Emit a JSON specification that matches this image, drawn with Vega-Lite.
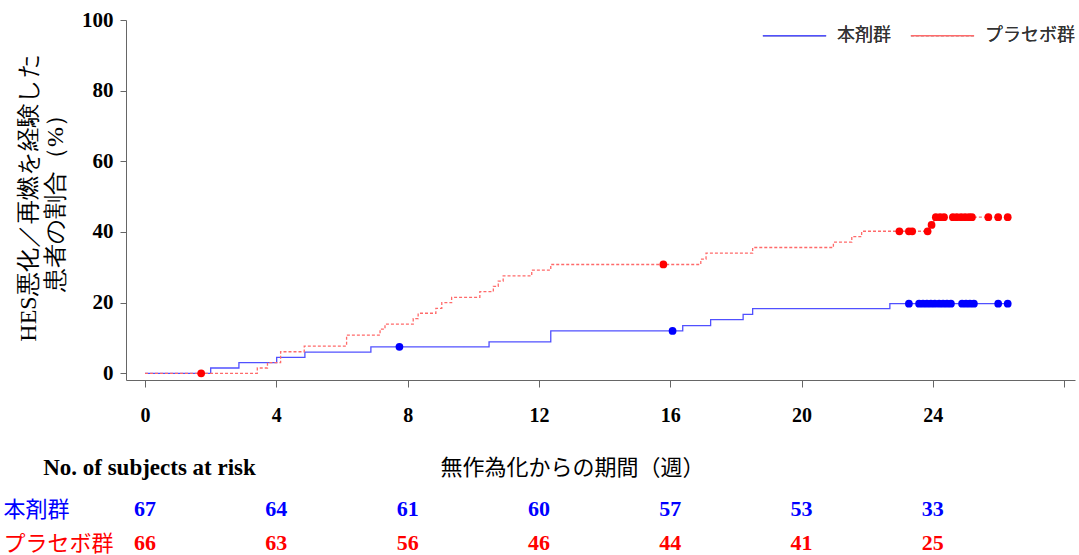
{
  "$schema": "https://vega.github.io/schema/vega-lite/v6.json",
  "width": 949,
  "height": 360,
  "autosize": {"type": "none"},
  "padding": {"left": 126, "top": 20, "right": 4, "bottom": 175},
  "background": "white",
  "config": {"view": {"stroke": null}, "axis": {"grid": false}},
  "datasets": {
    "curve": [
      {"group": "本剤群", "week": 0, "pct": 0},
      {"group": "本剤群", "week": 2.0, "pct": 1.5},
      {"group": "本剤群", "week": 2.86, "pct": 3.0},
      {"group": "本剤群", "week": 4.01, "pct": 4.5},
      {"group": "本剤群", "week": 4.87, "pct": 6.0},
      {"group": "本剤群", "week": 6.88, "pct": 7.5},
      {"group": "本剤群", "week": 10.48, "pct": 8.9},
      {"group": "本剤群", "week": 12.36, "pct": 12.0},
      {"group": "本剤群", "week": 16.38, "pct": 13.5},
      {"group": "本剤群", "week": 17.23, "pct": 15.2},
      {"group": "本剤群", "week": 18.22, "pct": 16.7},
      {"group": "本剤群", "week": 18.51, "pct": 18.3},
      {"group": "本剤群", "week": 22.69, "pct": 19.7},
      {"group": "本剤群", "week": 26.28, "pct": 19.7},
      {"group": "プラセボ群", "week": 0, "pct": 0},
      {"group": "プラセボ群", "week": 3.42, "pct": 1.5},
      {"group": "プラセボ群", "week": 3.73, "pct": 3.0},
      {"group": "プラセボ群", "week": 4.13, "pct": 6.1},
      {"group": "プラセボ群", "week": 4.85, "pct": 7.7},
      {"group": "プラセボ群", "week": 6.14, "pct": 10.8},
      {"group": "プラセボ群", "week": 7.16, "pct": 12.5},
      {"group": "プラセボ群", "week": 7.31, "pct": 13.9},
      {"group": "プラセボ群", "week": 8.17, "pct": 15.5},
      {"group": "プラセボ群", "week": 8.32, "pct": 17.0},
      {"group": "プラセボ群", "week": 8.86, "pct": 18.4},
      {"group": "プラセボ群", "week": 9.04, "pct": 20.0},
      {"group": "プラセボ群", "week": 9.34, "pct": 21.5},
      {"group": "プラセボ群", "week": 10.2, "pct": 23.1},
      {"group": "プラセボ群", "week": 10.61, "pct": 24.6},
      {"group": "プラセボ群", "week": 10.76, "pct": 26.1},
      {"group": "プラセボ群", "week": 10.91, "pct": 27.6},
      {"group": "プラセボ群", "week": 11.78, "pct": 29.2},
      {"group": "プラセボ群", "week": 12.36, "pct": 30.8},
      {"group": "プラセボ群", "week": 16.93, "pct": 32.3},
      {"group": "プラセボ群", "week": 17.09, "pct": 34.0},
      {"group": "プラセボ群", "week": 18.51, "pct": 35.6},
      {"group": "プラセボ群", "week": 20.97, "pct": 37.1},
      {"group": "プラセボ群", "week": 21.53, "pct": 38.7},
      {"group": "プラセボ群", "week": 21.83, "pct": 40.2},
      {"group": "プラセボ群", "week": 23.91, "pct": 42.0},
      {"group": "プラセボ群", "week": 24.03, "pct": 44.2},
      {"group": "プラセボ群", "week": 26.28, "pct": 44.2}
    ],
    "censor": [
      {"group": "本剤群", "week": 7.75, "pct": 7.5},
      {"group": "本剤群", "week": 16.07, "pct": 12.0},
      {"group": "本剤群", "week": 23.27, "pct": 19.7},
      {"group": "本剤群", "week": 23.58, "pct": 19.7},
      {"group": "本剤群", "week": 23.7, "pct": 19.7},
      {"group": "本剤群", "week": 23.82, "pct": 19.7},
      {"group": "本剤群", "week": 23.94, "pct": 19.7},
      {"group": "本剤群", "week": 24.06, "pct": 19.7},
      {"group": "本剤群", "week": 24.19, "pct": 19.7},
      {"group": "本剤群", "week": 24.31, "pct": 19.7},
      {"group": "本剤群", "week": 24.43, "pct": 19.7},
      {"group": "本剤群", "week": 24.55, "pct": 19.7},
      {"group": "本剤群", "week": 24.89, "pct": 19.7},
      {"group": "本剤群", "week": 25.01, "pct": 19.7},
      {"group": "本剤群", "week": 25.13, "pct": 19.7},
      {"group": "本剤群", "week": 25.25, "pct": 19.7},
      {"group": "本剤群", "week": 25.99, "pct": 19.7},
      {"group": "本剤群", "week": 26.28, "pct": 19.7},
      {"group": "プラセボ群", "week": 1.71, "pct": 0},
      {"group": "プラセボ群", "week": 15.79, "pct": 30.8},
      {"group": "プラセボ群", "week": 22.98, "pct": 40.2},
      {"group": "プラセボ群", "week": 23.27, "pct": 40.2},
      {"group": "プラセボ群", "week": 23.37, "pct": 40.2},
      {"group": "プラセボ群", "week": 23.84, "pct": 40.2},
      {"group": "プラセボ群", "week": 23.96, "pct": 42.0},
      {"group": "プラセボ群", "week": 24.09, "pct": 44.2},
      {"group": "プラセボ群", "week": 24.22, "pct": 44.2},
      {"group": "プラセボ群", "week": 24.34, "pct": 44.2},
      {"group": "プラセボ群", "week": 24.61, "pct": 44.2},
      {"group": "プラセボ群", "week": 24.73, "pct": 44.2},
      {"group": "プラセボ群", "week": 24.86, "pct": 44.2},
      {"group": "プラセボ群", "week": 24.98, "pct": 44.2},
      {"group": "プラセボ群", "week": 25.1, "pct": 44.2},
      {"group": "プラセボ群", "week": 25.19, "pct": 44.2},
      {"group": "プラセボ群", "week": 25.69, "pct": 44.2},
      {"group": "プラセボ群", "week": 25.99, "pct": 44.2},
      {"group": "プラセボ群", "week": 26.28, "pct": 44.2}
    ],
    "risk": [
      {"group": "本剤群", "week": 0, "n": 67},
      {"group": "本剤群", "week": 4, "n": 64},
      {"group": "本剤群", "week": 8, "n": 61},
      {"group": "本剤群", "week": 12, "n": 60},
      {"group": "本剤群", "week": 16, "n": 57},
      {"group": "本剤群", "week": 20, "n": 53},
      {"group": "本剤群", "week": 24, "n": 33},
      {"group": "プラセボ群", "week": 0, "n": 66},
      {"group": "プラセボ群", "week": 4, "n": 63},
      {"group": "プラセボ群", "week": 8, "n": 56},
      {"group": "プラセボ群", "week": 12, "n": 46},
      {"group": "プラセボ群", "week": 16, "n": 44},
      {"group": "プラセボ群", "week": 20, "n": 41},
      {"group": "プラセボ群", "week": 24, "n": 25}
    ]
  },
  "layer": [
    {
      "layer": [
        {
          "data": {"name": "curve"},
          "mark": {"type": "line", "interpolate": "step-after", "strokeWidth": 1.3},
          "encoding": {
            "x": {
              "field": "week", "type": "quantitative",
              "scale": {"domain": [-0.58, 28.33], "nice": false, "zero": false},
              "axis": {
                "values": [0, 4, 8, 12, 16, 20, 24, 28],
                "labelExpr": "datum.value == 28 ? '' : datum.label",
                "labelFont": "Liberation Serif", "labelFontWeight": "bold", "labelFontSize": 20,
                "labelColor": "black", "labelPadding": 18, "labelFlush": false,
                "tickSize": 7, "tickColor": "#666", "domainColor": "#666",
                "title": "無作為化からの期間（週）",
                "titleFont": "Noto Sans CJK JP", "titleFontSize": 22, "titleFontWeight": "normal",
                "titleColor": "black", "titleX": 446, "titleY": 87,
                "titleBaseline": "middle", "titleAlign": "center"
              }
            },
            "y": {
              "field": "pct", "type": "quantitative",
              "scale": {"domain": [-1.9, 100], "nice": false, "zero": false},
              "axis": {
                "orient": "left",
                "values": [0, 10, 20, 30, 40, 50, 60, 70, 80, 90, 100],
                "labelExpr": "datum.value % 20 === 0 ? datum.label : ''",
                "labelFont": "Liberation Serif", "labelFontWeight": "bold", "labelFontSize": 21,
                "labelColor": "black", "labelPadding": 7, "labelOverlap": false,
                "tickSize": 6, "tickColor": "#666", "domainColor": "#666",
                "title": ["HES悪化／再燃を経験した", "患者の割合（%）"],
                "titleFont": "Liberation Serif", "titleFontSize": 24, "titleFontWeight": "normal",
                "titleColor": "black", "titleAngle": -90, "titleX": -86, "titleY": 177,
                "titleBaseline": "bottom", "titleAlign": "center", "titleLineHeight": 27
              }
            },
            "color": {
              "field": "group", "type": "nominal",
              "scale": {"domain": ["本剤群", "プラセボ群"], "range": ["#5050ff", "#ff6a6a"]},
              "legend": {
                "title": null, "orient": "none", "legendX": 636, "legendY": -17,
                "direction": "horizontal", "symbolType": "stroke", "symbolSize": 4000,
                "symbolStrokeWidth": 1.5, "labelFont": "Noto Sans CJK JP", "labelFontSize": 18,
                "labelColor": "#333", "labelOffset": 10, "columnPadding": 16, "padding": 0
              }
            },
            "strokeDash": {
              "field": "group", "type": "nominal",
              "scale": {"domain": ["本剤群", "プラセボ群"], "range": [[1, 0], [3, 2]]},
              "legend": {
                "title": null, "orient": "none", "legendX": 636, "legendY": -17,
                "direction": "horizontal", "symbolType": "stroke", "symbolSize": 4000,
                "symbolStrokeWidth": 1.5, "labelFont": "Noto Sans CJK JP", "labelFontSize": 18,
                "labelColor": "#333", "labelOffset": 10, "columnPadding": 16, "padding": 0
              }
            }
          }
        },
        {
          "data": {"name": "censor"},
          "mark": {"type": "circle", "size": 60, "opacity": 1},
          "encoding": {
            "x": {"field": "week", "type": "quantitative"},
            "y": {"field": "pct", "type": "quantitative"},
            "color": {
              "field": "group", "type": "nominal",
              "scale": {"domain": ["本剤群", "プラセボ群"], "range": ["#0000ff", "#ff0000"]},
              "legend": null
            }
          }
        }
      ],
      "resolve": {"scale": {"color": "independent"}}
    },
    {
      "data": {"name": "risk"},
      "mark": {"type": "text", "font": "Liberation Serif", "fontWeight": "bold", "fontSize": 22, "baseline": "middle", "align": "center"},
      "encoding": {
        "x": {"field": "week", "type": "quantitative"},
        "y": {
          "field": "group", "type": "nominal",
          "scale": {"domain": ["本剤群", "プラセボ群"], "range": [489, 523], "padding": 0},
          "axis": {
            "orient": "left", "domain": false, "ticks": false, "tickSize": 0, "grid": false,
            "labelAlign": "left", "labelBaseline": "middle", "labelPadding": 123,
            "labelFont": "Noto Sans CJK JP", "labelFontSize": 22,
            "labelColor": {"condition": {"test": "datum.value === '本剤群'", "value": "#0000ff"}, "value": "#ff0000"},
            "title": "No. of subjects at risk", "titleAngle": 0, "titleX": 23, "titleY": 447,
            "titleAlign": "center", "titleBaseline": "middle",
            "titleFont": "Liberation Serif", "titleFontWeight": "bold", "titleFontSize": 23, "titleColor": "black"
          }
        },
        "text": {"field": "n", "type": "quantitative"},
        "color": {
          "field": "group", "type": "nominal",
          "scale": {"domain": ["本剤群", "プラセボ群"], "range": ["#0000ff", "#ff0000"]},
          "legend": null
        }
      }
    }
  ],
  "resolve": {"scale": {"y": "independent", "color": "independent"}}
}
